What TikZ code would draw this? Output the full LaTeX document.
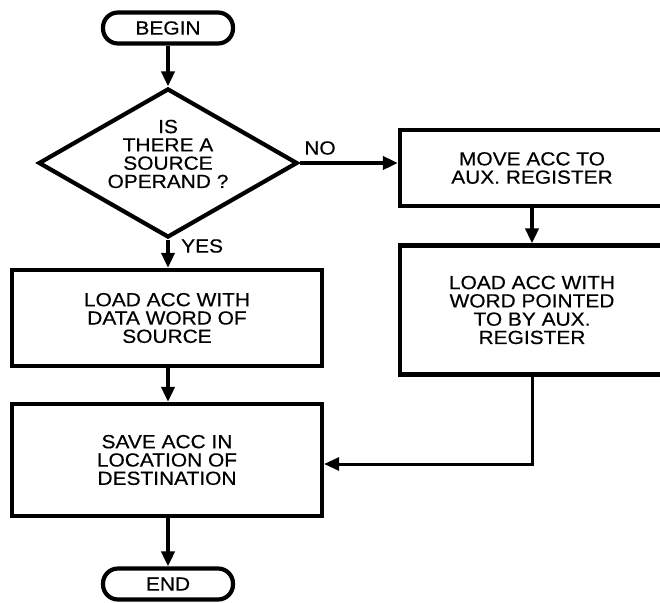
\documentclass[tikz,border=0pt]{standalone}
\usepackage{fontspec}
\setmainfont{Liberation Sans}[FakeStretch=1.1,FakeBold=0.4]
\usetikzlibrary{shapes.geometric,arrows.meta}
\begin{document}
\begin{tikzpicture}[x=1pt,y=-1pt,
  every node/.style={font=\fontsize{19}{18.3}\selectfont, align=center, inner sep=0pt},
  term/.style={draw, line width=4.2pt, rounded corners=15pt, minimum width=130pt, minimum height=31pt},
  procbox/.style={draw, line width=4.2pt, minimum width=310pt},
  rbox/.style={draw, line width=4.2pt, minimum width=264pt},
  decis/.style={draw, diamond, line width=4.2pt, minimum width=259pt, minimum height=149pt},
  flow/.style={line width=4pt, -{Triangle[length=15pt,width=13pt]}},
  lbl/.style={font=\fontsize{19}{18.3}\selectfont}
]
\useasboundingbox (0,0) rectangle (660,602);
\fill[white] (0,0) rectangle (660,602);
\clip (0,0) rectangle (660,602);

\node[term] (begin) at (168,28) {BEGIN};
\node[decis] (dec) at (168,163) {};
\node (dectext) at (168,154) {IS\\THERE A\\SOURCE\\OPERAND ?};
\node[procbox, minimum height=96pt] (load1) at (167,318) {LOAD ACC WITH\\DATA WORD OF\\SOURCE};
\node[procbox, minimum height=112pt] (save) at (167,460) {SAVE ACC IN\\LOCATION OF\\DESTINATION};
\node[term] (end) at (168,584) {END};

\node[rbox, minimum height=76pt] (move) at (532,168) {MOVE ACC TO\\AUX. REGISTER};
\node[rbox, minimum height=129pt] (load2) at (532,310) {LOAD ACC WITH\\WORD POINTED\\TO BY AUX.\\REGISTER};

\node[lbl, anchor=west] (yes) at (181,246) {YES};
\node[lbl] (no) at (320,148) {NO};

\draw[flow] (begin.south) -- (dec.north);
\draw[flow] (dec.south) -- (load1.north -| dec.south);
\draw[flow] (load1.south -| dec.south) -- (save.north -| dec.south);
\draw[flow] (save.south -| dec.south) -- (end.north);
\draw[flow] (dec.east) -- (dec.east -| move.west);
\draw[flow] (move.south) -- (load2.north);
\coordinate (corner) at ([yshift=-4pt]load2.south |- save.east);
\draw[line width=3pt, -{Triangle[length=15pt,width=13pt]}] (load2.south) -- (corner) -- (corner -| save.east);
\end{tikzpicture}
\end{document}
